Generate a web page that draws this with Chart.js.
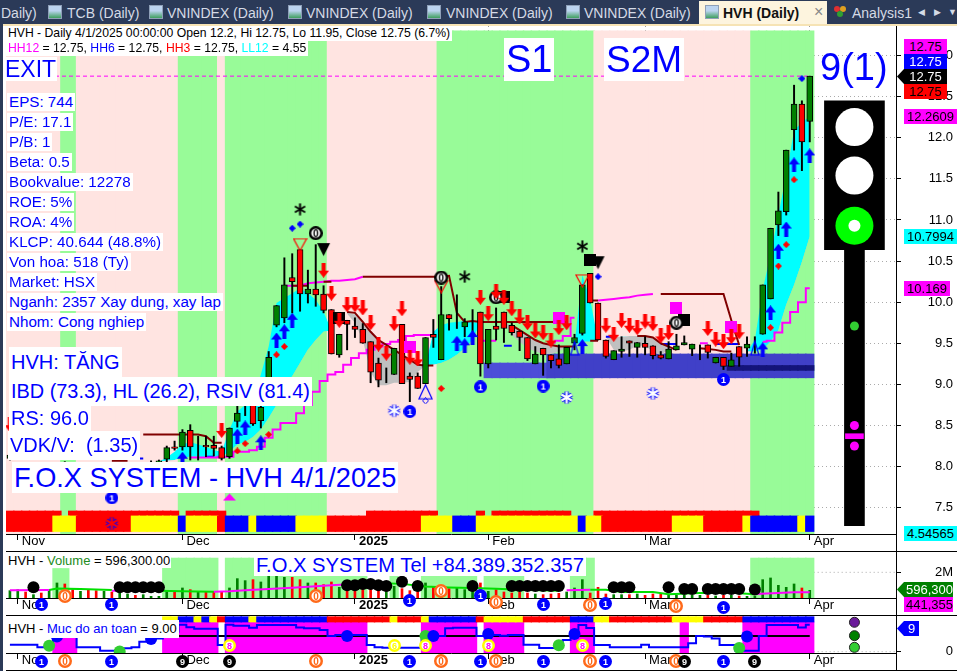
<!DOCTYPE html>
<html>
<head>
<meta charset="utf-8">
<title>HVH (Daily)</title>
<script src="https://cdn.jsdelivr.net/npm/chart.js@4"></script>
<style>
html,body{margin:0;padding:0;background:#fff;overflow:hidden}
#page{position:relative;width:957px;height:671px;overflow:hidden;font-family:"Liberation Sans",Arial,sans-serif}
canvas.pane{position:absolute;left:0}
.lb{position:absolute;white-space:pre;padding:0 2px}
.tab{position:absolute;top:3px;height:20px;line-height:20px;font-size:14px;color:#d5dbe6;white-space:pre}
.ico{position:absolute;top:5px;width:14px;height:14px;border:1px solid #8fa0b8;box-sizing:border-box;background:linear-gradient(#bcd4f0 40%,#3f9f5f 100%)}
</style>
</head>
<body>
<div id="page">
  <canvas class="pane" id="priceCanvas" width="957" height="525" style="top:26px"></canvas>
  <canvas class="pane" id="volCanvas" width="957" height="64" style="top:551px"></canvas>
  <canvas class="pane" id="safeCanvas" width="957" height="55" style="top:615px"></canvas>
</div>
<script>
// ---- du lieu gia (OHLC) doc tu hinh, index 0 = 31/10, index 102 = 1/4 ----
const opens=[8.10,7.98,8.00,7.96,7.98,7.95,8.00,8.02,7.98,7.96,8.00,7.98,7.96,7.98,7.96,7.98,8.00,7.98,8.02,8.05,
8.09,8.24,8.24,8.44,8.23,8.26,8.26,8.23,8.12,8.55,8.78,8.87,8.56,8.81,9.72,9.81,10.30,10.64,10.10,10.16,10.10,
9.91,9.36,9.78,9.71,9.67,9.52,9.26,9.10,9.12,9.73,9.10,9.10,9.01,9.61,9.30,9.85,9.81,9.70,9.76,9.88,
9.25,9.71,9.88,9.72,9.65,9.57,9.25,9.44,9.36,9.31,9.25,9.50,9.62,10.35,9.99,9.54,9.30,9.40,9.53,9.45,
9.50,9.47,9.36,9.31,9.42,9.48,9.43,9.48,9.48,9.26,9.33,9.22,9.46,9.44,9.54,9.61,10.04,10.94,11.10,12.10,12.41,12.20];
const highs=[8.16,8.04,8.05,8.02,8.03,8.02,8.05,8.06,8.04,8.02,8.05,8.03,8.02,8.04,8.02,8.04,8.05,8.03,8.07,8.08,
8.25,8.31,8.45,8.51,8.37,8.37,8.37,8.25,8.47,8.75,8.95,8.95,8.78,9.40,9.96,10.54,10.59,10.64,10.39,10.70,10.20,
9.91,9.61,9.78,9.81,9.74,9.52,9.32,9.20,9.44,9.73,9.14,9.14,9.57,9.79,10.19,9.85,10.09,9.80,9.91,9.88,
9.67,9.93,9.88,9.75,9.65,9.57,9.46,9.44,9.36,9.48,9.45,9.61,10.21,10.35,9.99,9.54,9.41,9.58,9.53,9.51,
9.58,9.47,9.40,9.52,9.61,9.59,9.49,9.48,9.48,9.33,9.33,9.38,9.46,9.58,9.58,10.21,10.90,11.34,11.85,12.64,12.45,12.75];
const lows=[8.08,7.92,7.94,7.92,7.93,7.90,7.94,7.96,7.93,7.92,7.94,7.92,7.90,7.92,7.90,7.92,7.94,7.92,7.96,7.98,
8.05,8.20,8.20,8.08,8.08,8.12,8.13,8.08,8.10,8.48,8.62,8.50,8.47,8.75,9.70,9.75,9.87,9.89,9.99,9.95,9.87,
9.37,9.33,9.42,9.57,9.50,9.02,8.97,9.02,9.12,9.01,8.79,8.95,9.01,9.45,9.30,9.66,9.68,9.58,9.64,9.10,
9.20,9.54,9.51,9.60,9.41,9.29,9.25,9.11,9.20,9.20,9.25,9.42,9.60,9.99,9.54,9.32,9.30,9.33,9.34,9.33,
9.36,9.31,9.31,9.31,9.42,9.48,9.35,9.30,9.32,9.26,9.18,9.22,9.22,9.34,9.38,9.61,10.04,10.81,11.06,11.85,11.60,11.95];
const closes=[8.14,8.01,7.96,7.98,7.95,8.00,8.02,7.98,7.96,8.00,7.98,7.96,7.98,7.96,7.98,8.00,7.98,8.02,8.05,8.07,
8.23,8.22,8.42,8.24,8.23,8.24,8.22,8.10,8.47,8.65,8.78,8.52,8.72,9.33,9.96,10.21,10.25,10.10,10.16,10.09,9.90,
9.37,9.61,9.73,9.67,9.50,9.15,9.05,9.10,9.44,9.01,9.06,8.95,9.57,9.57,9.85,9.80,9.81,9.76,9.76,9.25,
9.67,9.67,9.68,9.63,9.57,9.31,9.37,9.36,9.29,9.23,9.45,9.57,10.21,9.99,9.54,9.34,9.41,9.43,9.50,9.51,
9.45,9.35,9.32,9.43,9.47,9.51,9.49,9.48,9.39,9.33,9.22,9.30,9.33,9.49,9.54,10.21,10.90,11.11,11.85,12.41,11.95,12.75];

const priceTicks=[7.5,8,8.5,9,9.5,10,10.5,11,11.5,12,12.5,13];
const monthTickIdx=[1,22,44,61,81,102];
const monthTickLabels=['Nov','Dec','2025','Feb','Mar','Apr'];

// vung nen, dai tin hieu: [ma mau, so phien]
const regimeRuns=[['P',7],['G',2],['P',13],['G',5],['P',1],['G',13],['P',14],['G',20],['P',20],['G',8]];
const signalRuns=[['R',6],['Y',3],['R',7],['Y',6],['B',1],['Y',4],['R',1],['B',3],['Y',1],['B',5],['Y',4],['R',12],['Y',4],['B',3],['Y',13],['B',1],['Y',2],['R',9],['Y',4],['R',5],['Y',1],['B',6],['Y',1],['B',1]];
const trendRuns=[['R',7],['W',1],['R',14],['W',1],['R',5],['W',18],['R',9],['W',5],['R',1],['W',1],['R',10],['W',3],['R',21],['W',7]];
const safetyRuns=[['W',20],['Y',2],['B',2],['Y',1],['B',1],['Y',1],['R',1],['B',3],['Y',1],['B',9],['R',8],['Y',1],['R',3],['Y',1],['B',6],['R',1],['Y',5],['R',6],['B',3],['Y',2],['R',8],['Y',4],['R',5],['B',9]];

// cloud: [i, fast, slow]
const cloudRows=[[19,8.06,8.06],[20,8.11,8.07],[21,8.18,8.08],[22,8.27,8.11],[23,8.30,8.12],[24,8.27,8.12],[25,8.24,8.11],[26,8.20,8.11],[27,8.18,8.12],[28,8.45,8.18],[29,8.67,8.27],[30,8.75,8.30],[31,8.81,8.36],[32,9.12,8.45],[33,9.46,8.59],[34,9.99,8.75],[35,10.05,8.99],[36,10.11,9.10],[37,10.17,9.26],[38,10.11,9.42],[39,10.03,9.54],[40,9.88,9.64],[41,9.66,9.66],[42,null,null],
[43,9.86,9.87],[44,9.75,9.85],[45,9.54,9.76],[46,9.15,9.64],[47,8.99,9.54],[48,8.99,9.48],[49,9.02,9.42],[50,9.02,9.36],[51,9.03,9.30],[52,9.15,9.24],[53,9.23,9.23],[54,9.64,9.24],[55,9.72,9.26],[56,9.75,9.30],[57,9.76,9.36],[58,9.77,9.44],[59,9.76,9.54],[60,9.75,9.75],[61,null,null],
[63,9.75,9.75],[64,9.60,9.72],[65,9.52,9.66],[66,9.44,9.60],[67,9.40,9.54],[68,9.37,9.50],[69,9.37,9.48],[70,9.40,9.46],[71,9.46,9.46],[72,9.48,9.48],[73,10.33,9.52],[74,10.03,9.52],[75,9.53,9.53],[76,9.58,9.58],[77,9.42,9.57],[78,9.40,9.58],[79,9.42,9.59],[80,9.47,9.59],[81,9.47,9.59],[82,9.40,9.57],[83,9.35,9.50],[84,9.43,9.46],[85,9.42,9.42],[86,null,null],
[93,9.40,9.40],[94,9.40,9.40],[95,9.54,9.40],[96,10.15,9.42],[97,10.58,9.52],[98,11.06,9.66],[99,11.55,9.97],[100,12.09,10.21],[101,12.19,10.49],[102,12.26,10.80]];

const stopMagenta=[[23,8.11],[24,8.11],[25,8.11],[26,8.11],[27,8.12],[28,8.12],[29,8.18],[30,8.18],[31,8.20],[32,8.24],[33,8.35],[34,8.45],[35,8.53],[36,8.53],[37,8.65],[38,8.75],[39,8.91],[40,9.04],[41,9.12],[42,9.15],[43,9.24],[44,9.32],[45,9.38],[46,9.42],[47,9.46],[48,9.49],[49,9.52],[50,9.54],[51,9.59],[52,9.60],[53,9.60],[54,9.60],[55,null],
[60,9.53],[61,9.53],[62,9.53],[63,null],[69,9.51],[70,9.53],[71,9.59],[72,9.81],[73,null],
[96,9.52],[97,9.53],[98,9.63],[99,9.75],[100,9.88],[101,10.00],[102,10.17]];
const upperMagenta=[[35,10.20],[36,10.20],[37,10.20],[38,10.23],[39,10.24],[40,10.25],[41,10.26],[42,10.26],[43,10.27],[44,10.28],[45,10.31],[46,null],
[75,10.02],[76,10.03],[77,10.04],[78,10.05],[79,10.06],[80,10.08],[81,10.09],[82,10.10],[83,null],[88,9.50],[89,9.50],[90,null]];
const stopMaroon=[[13,8.07],[14,8.07],[15,8.07],[16,null],[17,8.39],[18,8.39],[19,8.39],[20,8.39],[21,8.39],[22,8.39],[23,8.39],[24,8.39],[25,8.37],[26,8.29],[27,8.29],[28,null],
[36,10.20],[37,10.20],[38,10.20],[39,null],[40,10.25],[41,10.25],[42,null],[45,10.31],[46,10.31],[47,10.31],[48,10.31],[49,10.31],[50,10.31],[51,10.31],[52,10.31],[53,10.31],[54,10.31],[55,10.31],[56,10.32],[57,9.87],[58,9.76],[59,9.77],[60,9.76],[61,9.76],[62,9.76],[63,9.76],[64,9.76],[65,9.76],[66,9.76],[67,9.76],[68,9.76],[69,9.76],[70,9.76],[71,9.76],[72,null],
[74,10.02],[75,10.02],[76,null],[83,10.10],[84,10.10],[85,10.10],[86,10.10],[87,10.10],[88,10.10],[89,10.10],[90,10.10],[91,10.10],[92,9.78],[93,9.48]];
const emaMaroon=[[43,9.88],[44,9.87],[45,9.76],[46,9.64],[47,9.54],[48,9.48],[49,9.42],[50,9.36],[51,9.30],[52,9.24],[53,9.23],[54,9.23],[55,null],
[64,9.72],[65,9.66],[66,9.60],[67,9.54],[68,9.50],[69,9.48],[70,9.46],[71,9.46],[72,9.46],[73,null],[74,9.53],[75,9.53],[76,null],
[80,9.59],[81,9.59],[82,9.57],[83,9.50],[84,9.46],[85,9.42],[86,null],[88,9.44],[89,9.43],[90,9.42],[91,9.40],[92,9.40]];
const blueLine=[[15,8.10],[16,8.10],[17,8.10],[18,null],[25,8.12],[26,8.12],[27,null],[63,9.47],[64,9.47],[65,null],[76,9.58],[77,9.58],[78,null],[83,9.49],[84,9.49],[85,9.49],[86,null],[90,9.49],[91,9.49],[92,9.49],[93,9.49]];
const hhLine=[[-0.5,12.75],[102,12.75]];

// vung ho tro: [tu i, den i, thap, cao]
const supportZones=[[61,69,9.08,9.26],[69,102,9.08,9.37]];
const supportCore=[[92,102,9.17,9.23]];

const arrowsDown=[[0,8.51],[27,8.44],[40,10.39],[41,10.11],[42,9.78],[43,9.97],[44,9.97],[45,9.93],[46,9.75],[47,9.49],[48,9.38],[49,9.74],[50,9.92],[51,9.33],[52,9.31],[60,10.06],[61,9.86],[62,10.13],[63,10.06],[64,9.92],[65,9.82],[66,9.75],[67,9.65],[68,9.63],[69,9.54],[70,9.69],[71,9.75],[76,9.72],[77,9.61],[78,9.78],[79,9.72],[80,9.69],[81,9.77],[82,9.74],[83,9.59],[84,9.63],[89,9.68],[90,9.55],[91,9.52],[92,9.58],[93,9.64]];
const arrowsUp=[[22,8.09],[29,8.37],[30,8.47],[32,8.29],[34,9.54],[35,9.64],[36,9.78],[57,9.50],[58,9.47],[59,9.57],[73,9.46],[96,9.42],[97,9.87],[98,10.62],[99,10.89],[100,11.67],[102,11.78]];
const blueDiamonds=[[36,10.90],[37,10.95],[75,10.31],[101,12.72]];
const redDiamonds=[[29,8.19],[30,8.28],[33,8.39],[34,9.36],[35,9.46],[55,8.95],[97,9.69],[98,10.44],[99,10.70],[100,11.49]];
const asterisks=[[37,11.13],[58,10.31],[73,10.68]];
const blackZeros=[[39,10.84],[55,10.30],[62,10.06],[85,9.75]];
const blackSquares=[[42,9.81],[63,10.06],[74,10.51],[86,9.78]];
const magentaSquares=[[51,9.46],[70,9.81],[85,9.93],[92,9.70]];
const funnels=[[37,10.70],[55,10.19],[73,10.26]];
const blackDown=[[40,10.64],[75,10.48]];
const thinTriangles=[[72,9.44],[95,9.44]];
const bigTriangles=[[53,8.91]];
const smallRings=[[53,8.80]];
const snowflakes=[[49,8.68],[71,8.84],[82,8.89]];
const stripFlakes=[[13,7.31]];
const blueOnes=[[13,7.62],[51,8.67],[60,8.97],[68,8.98],[91,9.06]];
const magentaTriangles=[[28,7.63]];

// den giao thong ben phai, tren thang gia
const lightX=107.7;
const lightBox=[10.64,12.45];
const lightPole=[7.28,10.64];
const lightWhite=[[lightX,12.13],[lightX,11.54]];
const lightGreen=[[lightX,10.93]];
const poleGreen=[[lightX,9.71]];
const poleMagenta=[[lightX,8.50],[lightX,8.25]];
const poleBar=[8.34,8.40];

// ---- volume ----
const volumes=[572000,650000,468000,260000,390000,650000,1170000,1092000,650000,520000,650000,572000,520000,468000,468000,312000,208000,260000,130000,130000,
572000,468000,780000,650000,520000,468000,520000,468000,780000,1508000,1352000,1430000,1248000,1690000,1690000,1612000,1612000,1430000,1170000,1170000,1040000,
1248000,832000,650000,650000,728000,780000,572000,572000,910000,728000,572000,728000,1170000,910000,858000,728000,780000,650000,650000,1170000,
520000,650000,468000,390000,468000,390000,312000,260000,312000,364000,468000,780000,1430000,390000,832000,312000,260000,260000,260000,312000,
208000,312000,312000,260000,208000,208000,208000,208000,208000,156000,208000,208000,156000,130000,130000,1430000,1560000,988000,832000,1092000,780000,596300];
const volMaGreen=[[5,620000],[6,730000],[9,700000],[13,620000],[14,null],[19,560000],[22,520000],[26,480000],[27,null],[47,1170000],[50,1100000],[53,900000],[56,820000],[59,780000],[62,730000],[66,620000],[70,560000],[71,null],[74,650000],[76,650000],[78,460000],[82,460000],[84,300000],[88,380000],[92,400000],[95,300000]];
const volMaPink=[[0,600000],[5,620000],[6,null],[13,560000],[19,540000],[20,null],[26,480000],[28,520000],[30,600000],[33,700000],[36,800000],[38,880000],[41,1000000],[44,1100000],[47,1170000],[48,null],[71,610000],[74,650000],[75,null],[95,320000],[98,390000],[100,440000],[102,441355]];
// [tu i, den i, muc tren] vung xanh
const volZones=[[6,7,2300000],[20,26,3110000],[28,31,3110000],[32,45,1710000],[49,49,1710000],[53,59,1710000],[61,65,1710000],[72,74,3110000],[95,102,3110000]];
const volDots=[[3,830000],[14,830000],[15,830000],[16,830000],[17,830000],[18,830000],[19,830000],[43,1000000],[44,1000000],[45,1090000],[46,1090000],[47,1000000],[48,930000],[50,1270000],[52,930000],[59,930000],[64,930000],[65,930000],[66,930000],[67,930000],[68,930000],[69,930000],[70,930000],[77,830000],[78,830000],[79,830000],[84,830000],[86,700000],[87,700000],[89,700000],[90,700000],[91,700000],[92,700000],[93,700000],[95,670000]];
const volDigits=[[4,-520000,'1'],[7,180000,'0'],[13,-520000,'1'],[39,180000,'0'],[51,-210000,'1'],[55,540000,'0'],[60,180000,'1'],[62,-290000,'0'],[68,-520000,'1'],[74,-520000,'0'],[76,-390000,'1'],[85,-620000,'0'],[91,-730000,'1']];
const volGuide=[[102.5,2000000],[113,2000000]];

// ---- muc do an toan ----
const safetyValues=[2.7,2.7,2.7,2.7,1.7,1.7,6,7,7,1.7,1.7,1.7,0.4,0.4,0.4,1.3,1.7,3.8,5.1,5.1,7.7,7.7,10.4,9.4,8.8,8.8,8.8,2.6,10.4,10,10,9.2,10.3,10.3,10.3,10.3,10.3,9.3,9,9,8.3,6,6.4,6.4,6.4,6.4,2.6,1.7,1.5,1.5,1.5,1.5,1.5,4.5,6,6,9,9.2,9.2,9.2,6,6.5,6.4,6.1,6.4,6.4,2.7,2.7,1.4,1.4,2.6,4.5,7.7,10.3,9.1,2.6,2.6,1.7,1.7,1.7,1.7,2.7,1.7,1.7,1.7,1.7,1.7,3.2,6,5.8,5.1,2.6,2.6,0.4,0.4,0.4,6,10.3,10.3,10.3,10.3,9.3,10.4];
const safetyFull=[[20,26],[28,45],[53,59],[61,65],[72,74],[86,86],[94,102]];
const safetyLow=[[6,8]];
const safetyThreshold=[[0,6],[102,6]];
const safetyGreenDots=[[5,2.3],[14,0.1],[53,6],[70,2.5],[93,1.4]];
const safetyBlueDots=[[6,5.8],[18,4.9],[43,6],[54,6],[61,6.8],[72,6.8],[94,5.8]];
const safetyYellow=[[28,2.56,'8'],[49,2.56,'6'],[53,2.56,'8'],[61,2.56,'8'],[73,2.56,'8']];
const safetyDigits=[[4,-3.6,'1'],[7,-3.6,'0'],[13,-3.6,'1'],[22,-3.6,'9'],[28,-3.6,'9'],[39,-3.6,'0'],[51,-3.6,'1'],[55,-3.6,'0'],[60,-3.6,'1'],[62,-3.6,'0'],[68,-3.6,'1'],[74,-3.6,'0'],[76,-3.6,'1'],[85,-3.6,'0'],[86,-3.6,'9'],[91,-3.6,'1'],[95,-3.6,'9']];
const safetyLamps=[[lightX,11.3,'#6a1b9a'],[lightX,6.15,'#008000'],[lightX,1.67,'#32cd32']];
const safetyGuide=[[102.5,0],[113,0]];

// ---- mau ----
const GREEN='#98fb98',PINK='#ffe4e1',UP='#008000',DOWN='#ff0000',BLUE='#0000ff',MAGENTA='#ff00ff',CYAN='#00ffff',MAROON='#800000';
const stripColors={R:'#ff0000',Y:'#ffff00',B:'#0000ff',W:'#ffffff',G:GREEN,P:PINK};
const FONT='"Liberation Sans",Arial,sans-serif';

function expandRuns(runs){
    let out=[];
    runs.forEach(r=>{for(let k=0;k<r[1];k++)out.push(r[0]);});
    return out;
}
function pts(rows){
    return rows.map(r=>({x:r[0],y:r[1]}));
}
//tao hinh nho cho pointStyle
function icon(w,h,draw){
    const c=document.createElement('canvas');
    c.width=w;c.height=h;
    draw(c.getContext('2d'),w,h);
    return c;
}
function arrowIcon(color,up){
    return icon(11,15,(g,w,h)=>{
        g.fillStyle=color;
        if(!up){g.translate(0,h);g.scale(1,-1);}
        g.beginPath();g.moveTo(w/2,0);g.lineTo(w,7);g.lineTo(w/2+2,7);g.lineTo(w/2+2,h);g.lineTo(w/2-2,h);g.lineTo(w/2-2,7);g.lineTo(0,7);g.closePath();g.fill();
    });
}
function triIcon(w,h,stroke,fill,down){
    return icon(w,h,(g)=>{
        if(down){g.translate(0,h);g.scale(1,-1);}
        g.beginPath();g.moveTo(w/2,1);g.lineTo(w-1,h-1);g.lineTo(1,h-1);g.closePath();
        if(fill){g.fillStyle=fill;g.fill();}
        if(stroke){g.strokeStyle=stroke;g.lineWidth=1.2;g.stroke();}
    });
}
function diamondIcon(color,r){
    return icon(r*2+1,r*2+1,(g,w)=>{
        g.fillStyle=color;g.beginPath();g.moveTo(w/2,0);g.lineTo(w,w/2);g.lineTo(w/2,w);g.lineTo(0,w/2);g.closePath();g.fill();
    });
}
function digitIcon(bg,digit,fg,size){
    return icon(size,size,(g,w)=>{
        g.fillStyle=bg;g.beginPath();g.arc(w/2,w/2,w/2,0,Math.PI*2);g.fill();
        g.fillStyle=fg;g.font='bold '+(size-4)+'px '+FONT;g.textAlign='center';g.textBaseline='middle';
        g.fillText(digit,w/2,w/2+1);
    });
}
function ringDigitIcon(ring,digit,fg,size){
    return icon(size,size,(g,w)=>{
        g.fillStyle='#fff';g.strokeStyle=ring;g.lineWidth=2.5;g.beginPath();g.arc(w/2,w/2,w/2-1.25,0,Math.PI*2);g.fill();g.stroke();
        g.fillStyle=fg;g.font='bold '+(size-4)+'px '+FONT;g.textAlign='center';g.textBaseline='middle';
        g.fillText(digit,w/2,w/2+1);
    });
}
function starIcon(){
    return icon(13,13,(g)=>{
        g.strokeStyle='#000';g.lineWidth=2;
        [0,60,120].forEach(a=>{g.save();g.translate(6.5,6.5);g.rotate(a*Math.PI/180);g.beginPath();g.moveTo(0,-6);g.lineTo(0,6);g.stroke();g.restore();});
    });
}
//bong tuyet: vien xanh, ruot mau inner
function flakeIcon(inner){
    return icon(15,15,(g)=>{
        const arms=(col,lw)=>{g.strokeStyle=col;g.lineWidth=lw;[0,60,120].forEach(a=>{g.save();g.translate(7.5,7.5);g.rotate(a*Math.PI/180);g.beginPath();g.moveTo(0,-6);g.lineTo(0,6);g.stroke();g.restore();});};
        arms(BLUE,4.2);arms(inner,2.2);
    });
}
const squareIcon=(color,s)=>icon(s,s,(g)=>{g.fillStyle=color;g.fillRect(0,0,s,s);});
const ringIcon=icon(7,7,(g)=>{g.strokeStyle=BLUE;g.lineWidth=1;g.beginPath();g.moveTo(3.5,0.5);g.lineTo(6.5,3.5);g.lineTo(3.5,6.5);g.lineTo(0.5,3.5);g.closePath();g.stroke();});

const digitLook={
    '0':ringDigitIcon('#ff6a1a','0','#ff6a1a',14),
    '1':digitIcon(BLUE,'1','#fff',13),
    '9':digitIcon('#000','9','#fff',13),
    '8':ringDigitIcon('#ffff00','8',MAGENTA,13),
    '6':ringDigitIcon('#ffff00','6','#ffff00',13)
};

function markers(rows,style,order){
    return {type:'line',data:pts(rows),showLine:false,pointStyle:style,pointRadius:6,pointHoverRadius:6,order:order};
}
function lineSet(rows,color,width,order,extra){
    return Object.assign({type:'line',data:pts(rows),borderColor:color,borderWidth:width,pointRadius:0,spanGaps:false,order:order,tension:0},extra||{});
}
//bar noi tu danh sach [tu,den,thap,cao]
function spanBars(rows,color,order){
    let data=[];
    rows.forEach(r=>{for(let i=r[0];i<=r[1];i++)data.push({x:i,y:[r[2],r[3]]});});
    return {type:'bar',data:data,backgroundColor:color,barThickness:8.6,grouped:false,order:order};
}
function runBars(codes,lo,hi,order){
    let data=[],cols=[];
    codes.forEach((c,i)=>{if(c==='W')return;data.push({x:i,y:[lo,hi]});cols.push(stripColors[c]);});
    return {type:'bar',data:data,backgroundColor:cols,barThickness:8.6,grouped:false,order:order};
}
//ve cac so trong dai ngay phia duoi (ngoai vung chart)
function digitPlugin(rows){
    return {id:'digitStrip',afterDraw(chart){
        const g=chart.ctx,sx=chart.scales.x,sy=chart.scales.y;
        rows.forEach(r=>{
            const ic=digitLook[r[2]];
            g.drawImage(ic,Math.round(sx.getPixelForValue(r[0])-ic.width/2),Math.round(sy.getPixelForValue(r[1])-ic.height/2));
        });
    }};
}
function timeAxis(showGrid){
    return {
        type:'linear',min:-0.5,max:113,offset:false,
        grid:{display:true,offset:false,color:'#999',tickColor:'#000',tickLength:6,tickBorderDash:[],drawOnChartArea:showGrid},
        border:{display:true,color:'#000',dash:[1,3]},
        afterBuildTicks(s){s.ticks=monthTickIdx.map(v=>({value:v}));},
        afterFit(s){s.height=17;s.paddingLeft=0;s.paddingRight=0;},
        ticks:{
            autoSkip:false,maxRotation:0,minRotation:0,align:'start',labelOffset:4,padding:-6,color:'#000',
            font:(c)=>({family:FONT,size:13,weight:c.index===2?'bold':'normal'}),
            callback:(v,idx)=>monthTickLabels[idx]
        }
    };
}
function valueAxis(min,max,tickVals,fmt,showGrid){
    return {
        type:'linear',position:'right',min:min,max:max,
        grid:{display:true,drawOnChartArea:showGrid,color:'#aaa',tickColor:'#000',tickLength:5,tickBorderDash:[]},
        border:{display:true,color:'#000',dash:[1,3]},
        afterBuildTicks(s){s.ticks=tickVals.map(v=>({value:v}));},
        afterFit(s){s.width=57;s.paddingTop=0;s.paddingBottom=0;},
        ticks:{color:'#000',crossAlign:'far',padding:2,font:{family:FONT,size:13},callback:fmt}
    };
}
function baseOptions(xAxis,yAxis){
    return {
        responsive:false,animation:false,events:[],
        layout:{autoPadding:false,padding:{left:6,right:4,top:0,bottom:0}},
        plugins:{legend:{display:false},tooltip:{enabled:false},title:{display:false}},
        scales:{x:xAxis,y:yAxis},
        elements:{bar:{borderWidth:0,borderSkipped:false}}
    };
}

// ---- pane gia ----
const regime=expandRuns(regimeRuns);
const candleBodies=opens.map((o,i)=>({x:i,y:[Math.min(o,closes[i]),Math.max(o,closes[i])]}));
const candleColors=opens.map((o,i)=>closes[i]>=o?UP:DOWN);
const wicks=opens.map((o,i)=>({x:i,y:[lows[i],highs[i]]}));
const fastRows=cloudRows.map(r=>[r[0],r[1]]);
const slowRows=cloudRows.map(r=>[r[0],r[2]]);

new Chart(document.getElementById('priceCanvas'),{
    type:'bar',
    data:{datasets:[
        // den giao thong
        {type:'line',data:pts(lightWhite),showLine:false,pointRadius:19,pointBackgroundColor:'#fff',pointBorderColor:'#fff',pointBorderWidth:0,order:1},
        {type:'line',data:pts(lightGreen),showLine:false,pointRadius:6,pointBackgroundColor:'#fff',pointBorderWidth:0,order:2},
        {type:'line',data:pts(lightGreen),showLine:false,pointRadius:19,pointBackgroundColor:'#00ff00',pointBorderWidth:0,order:3},
        {type:'line',data:pts(poleGreen),showLine:false,pointRadius:4.5,pointBackgroundColor:'#32cd32',pointBorderWidth:0,order:2},
        {type:'line',data:pts(poleMagenta),showLine:false,pointRadius:4.5,pointBackgroundColor:MAGENTA,pointBorderWidth:0,order:2},
        {type:'bar',data:[{x:lightX,y:poleBar}],backgroundColor:MAGENTA,barThickness:18,grouped:false,order:2},
        {type:'bar',data:[{x:lightX,y:lightBox}],backgroundColor:'#000',barThickness:60,grouped:false,order:4},
        {type:'bar',data:[{x:lightX,y:lightPole}],backgroundColor:'#000',barThickness:20,grouped:false,order:4},
        // dau hieu
        markers(arrowsDown,arrowIcon(DOWN,false),5),
        markers(arrowsUp,arrowIcon(BLUE,true),5),
        markers(blueDiamonds,diamondIcon(BLUE,3),5),
        markers(redDiamonds,diamondIcon(DOWN,3),5),
        markers(asterisks,starIcon(),5),
        markers(blackZeros,ringDigitIcon('#000','0','#000',14),5),
        markers(funnels,triIcon(15,14,DOWN,null,true),5),
        markers(blackDown,triIcon(15,15,null,'#000',true),5),
        markers(thinTriangles,triIcon(10,16,BLUE,null,false),5),
        markers(bigTriangles,triIcon(15,16,BLUE,null,false),5),
        markers(smallRings,ringIcon,5),
        markers(snowflakes,flakeIcon('#fff'),5),
        markers(stripFlakes,flakeIcon('#ff0000'),5),
        markers(blueOnes,digitLook['1'],5),
        markers(magentaTriangles,triIcon(15,9,null,MAGENTA,false),5),
        markers(magentaSquares,squareIcon(MAGENTA,12),6),
        markers(blackSquares,squareIcon('#000',12),6),
        // nen nhat
        {type:'bar',data:candleBodies,backgroundColor:candleColors,borderColor:'#000',borderWidth:1,borderSkipped:false,barThickness:6,grouped:false,order:7},
        {type:'bar',data:wicks,backgroundColor:'#000',barThickness:1.3,grouped:false,order:8},
        // duong
        lineSet(hhLine,MAGENTA,1,9,{borderDash:[4,3]}),
        lineSet(stopMaroon,MAROON,2,9),
        lineSet(emaMaroon,MAROON,2,9),
        lineSet(stopMagenta,MAGENTA,2,10,{stepped:'middle'}),
        lineSet(upperMagenta,MAGENTA,2,10),
        lineSet(blueLine,BLUE,2,10),
        // may xanh/xam
        lineSet(fastRows,'rgba(0,0,0,0)',0,11,{fill:{target:'+1',above:CYAN,below:'#c0c0c0'}}),
        lineSet(slowRows,'rgba(0,0,0,0)',0,12),
        // vung ho tro
        spanBars(supportCore,'#14147a',13),
        spanBars(supportZones.slice(1),'#4040c8',14),
        spanBars(supportZones.slice(0,1),'#4d4dd8',15),
        // dai mau phia duoi
        runBars(expandRuns(signalRuns),7.21,7.40,16),
        runBars(expandRuns(trendRuns),7.40,7.46,16),
        {type:'bar',data:regime.map((c,i)=>({x:i,y:[7.46,13.30]})),backgroundColor:regime.map(c=>stripColors[c]),barThickness:8.6,grouped:false,order:20},
        {type:'bar',data:regime.map((c,i)=>({x:i,y:[7.18,7.46]})),backgroundColor:regime.map(c=>stripColors[c]),barThickness:8.6,grouped:false,order:21}
    ]},
    options:baseOptions(timeAxis(true),valueAxis(7.18,13.36,priceTicks,(v)=>v.toFixed(1),true))
});

// ---- pane volume ----
const volBars=volumes.map((v,i)=>({x:i,y:[0,v]}));
const volColors=opens.map((o,i)=>closes[i]>=o?UP:DOWN);
new Chart(document.getElementById('volCanvas'),{
    type:'bar',
    data:{datasets:[
        {type:'line',data:pts(volDots),showLine:false,pointRadius:6,pointBackgroundColor:'#000',pointBorderWidth:0,order:1},
        lineSet(volMaPink,MAGENTA,2,2),
        lineSet(volMaGreen,'#00e000',2,3),
        {type:'bar',data:volBars,backgroundColor:volColors,barThickness:2,grouped:false,order:4},
        spanBars(volZones.map(r=>[r[0],r[1],0,r[2]]),GREEN,5),
        lineSet(volGuide,'#aaa',1,6,{borderDash:[1,3]})
    ]},
    plugins:[digitPlugin(volDigits)],
    options:baseOptions(timeAxis(false),valueAxis(0,3660000,[2000000],(v)=>(v/1000000)+'M',false))
});

// ---- pane muc do an toan ----
const safetyCodes=expandRuns(safetyRuns);
new Chart(document.getElementById('safeCanvas'),{
    type:'bar',
    data:{datasets:[
        {type:'line',data:pts(safetyLamps),showLine:false,pointRadius:5,pointBackgroundColor:safetyLamps.map(r=>r[2]),pointBorderColor:'#222',pointBorderWidth:1,order:1},
        {type:'line',data:pts(safetyBlueDots),showLine:false,pointRadius:6,pointBackgroundColor:BLUE,pointBorderWidth:0,order:2},
        {type:'line',data:pts(safetyGreenDots),showLine:false,pointRadius:6,pointBackgroundColor:'#32cd32',pointBorderWidth:0,order:3},
        lineSet(safetyThreshold,'#000',2,5),
        lineSet(safetyValues.map((v,i)=>[i,v]),BLUE,2,4,{stepped:'middle'}),
        runBars(safetyCodes,11.4,13.45,6),
        spanBars(safetyFull.map(r=>[r[0],r[1],-0.5,11.4]),MAGENTA,7),
        spanBars(safetyLow.map(r=>[r[0],r[1],-0.5,6]),MAGENTA,7),
        lineSet(safetyGuide,'#aaa',1,8,{borderDash:[1,3]})
    ]},
    plugins:[digitPlugin(safetyDigits.concat(safetyYellow))],
    options:baseOptions(timeAxis(false),valueAxis(-0.5,14.1,[0],(v)=>String(v),false))
});

// ---- text va khung HTML ----
const page=document.getElementById('page');
function addLabel(text,x,y,h,size,color,bg,extra){
    const d=document.createElement('div');
    d.className='lb';
    d.textContent=text;
    d.style.cssText='left:'+x+'px;top:'+y+'px;height:'+h+'px;line-height:'+h+'px;font-size:'+size+'px;color:'+color+';background:'+(bg||'transparent')+';'+(extra||'');
    page.appendChild(d);
    return d;
}
function addBox(x,y,w,h,color,extra){
    const d=document.createElement('div');
    d.style.cssText='position:absolute;left:'+x+'px;top:'+y+'px;width:'+w+'px;height:'+h+'px;background:'+color+';'+(extra||'');
    page.appendChild(d);
}
// thanh tab
addBox(0,0,957,24,'#2b3a58');
addBox(0,24,957,2,'#f6e3b4');
addBox(0,24,3,647,'#2b3a58');
addBox(699,1,128,23,'#fdf4de');
const tabs=[['Daily)',1],['TCB (Daily)',67],['VNINDEX (Daily)',167],['VNINDEX (Daily)',306],['VNINDEX (Daily)',446],['VNINDEX (Daily)',584],['Analysis1',852]];
const tabIcons=[48,149,288,427,566,705];
tabs.forEach(t=>{
    const d=document.createElement('div');
    d.className='tab';d.textContent=t[0];d.style.left=t[1]+'px';
    page.appendChild(d);
});
tabIcons.forEach(x=>{
    const d=document.createElement('div');
    d.className='ico';d.style.left=x+'px';
    page.appendChild(d);
});
addBox(834,6,6,6,'#e03030','border-radius:50%');
addBox(840,6,6,6,'#e0a020','border-radius:50%');
addBox(837,11,6,6,'#30a030','border-radius:50%');
addLabel('HVH (Daily)',721,3,20,14,'#111',null,'font-weight:bold;');
addLabel('\u00d7',812,2,20,16,'#888',null);
addLabel('\u25c0',916,3,18,9,'#d5dbe6',null);
addLabel('\u25b6',932,3,18,9,'#d5dbe6',null);
addLabel('\u25bc',946,3,18,9,'#d5dbe6',null);

// chu giai tren cung
addLabel('HVH - Daily 4/1/2025 00:00:00 Open 12.2, Hi 12.75, Lo 11.95, Close 12.75 (6.7%)',6,26,15,12.2,'#000','#fff');
const l2=addLabel('',6,41,15,12.2,'#000','#fff');
l2.innerHTML='<span style="color:#f0f">HH12</span> = 12.75, <span style="color:#00f">HH6</span> = 12.75, <span style="color:#f00">HH3</span> = 12.75, <span style="color:#0ff">LL12</span> = 4.55';

addLabel('EXIT',4,57,24,23,BLUE,'#fff','padding:0 1px;');
addLabel('S1',504,38,43,38,BLUE,'#fff');
addLabel('S2M',604,38,43,37,BLUE,'#fff');
addLabel('9(1)',818,46,42,38,BLUE,null);

const infoRows=['EPS: 744','P/E: 17.1','P/B: 1','Beta: 0.5','Bookvalue: 12278','ROE: 5%','ROA: 4%','KLCP: 40.644 (48.8%)','Von hoa: 518 (Ty)','Market: HSX','Nganh: 2357 Xay dung, xay lap','Nhom: Cong nghiep'];
infoRows.forEach((t,i)=>addLabel(t,7,93+i*20,18,15.2,BLUE,'#fff'));

addLabel('HVH: T\u0102NG',9,347,30,20,BLUE,'#fff');
addLabel('IBD (73.3), HL (26.2), RSIV (81.4)',9,377,29,19.9,BLUE,'#fff');
addLabel('RS: 96.0',9,406,25,20,BLUE,'#fff');
addLabel('VDK/V:  (1.35)',8,431,29,20,BLUE,'#fff');
addLabel('F.O.X SYSTEM - HVH 4/1/2025',12,462,31,27.2,BLUE,'#fff');

const l3=addLabel('',6,553,15,13,'#000','#fff','padding:0 1px 0 2px;');
l3.innerHTML='HVH - <span style="color:#228b22">Volume</span> = 596,300.00';
addLabel('F.O.X SYSTEM Tel +84.389.352.357',254,554,22,20.2,BLUE,'#fff');
const l4=addLabel('',6,620,18,13,'#000','#fff','padding:0 2px;');
l4.innerHTML='HVH - <span style="color:#00f">Muc do an toan</span> = 9.00';

// nhan gia ben phai
const sideLabels=[
    ['12.75',904,39,43,'#ff00ff','#000'],['12.75',904,54,43,'#0000ff','#fff'],['12.75',904,69,43,'#000','#fff'],['12.75',904,84,43,'#ff0000','#000'],
    ['12.2609',904,109,53,'#ff00ff','#000'],['10.7994',904,229,53,'#00ffff','#000'],['10.169',904,281,46,'#ff00ff','#000'],['4.54565',904,526,53,'#00ffff','#000'],
    ['596,300',904,582,49,'#008000','#fff'],['441,355',904,597,49,'#ff00ff','#000'],['9',904,621,15,'#0000ff','#fff']
];
sideLabels.forEach(r=>{
    addLabel(r[0],r[1],r[2],15,13,r[5],r[4],'width:'+(r[3]-4)+'px;text-align:center;');
});
[[69,'#000'],[582,'#008000'],[621,'#0000ff']].forEach(r=>{
    addBox(897,r[0],7,15,r[1],'clip-path:polygon(100% 0,100% 100%,0 50%);');
});

// duong ke
addBox(6,551,951,1,'#000');
addBox(6,615,951,1,'#000');
addBox(6,670,951,1,'#000');
addBox(896,26,1,645,'#000');
</script>
</body>
</html>
